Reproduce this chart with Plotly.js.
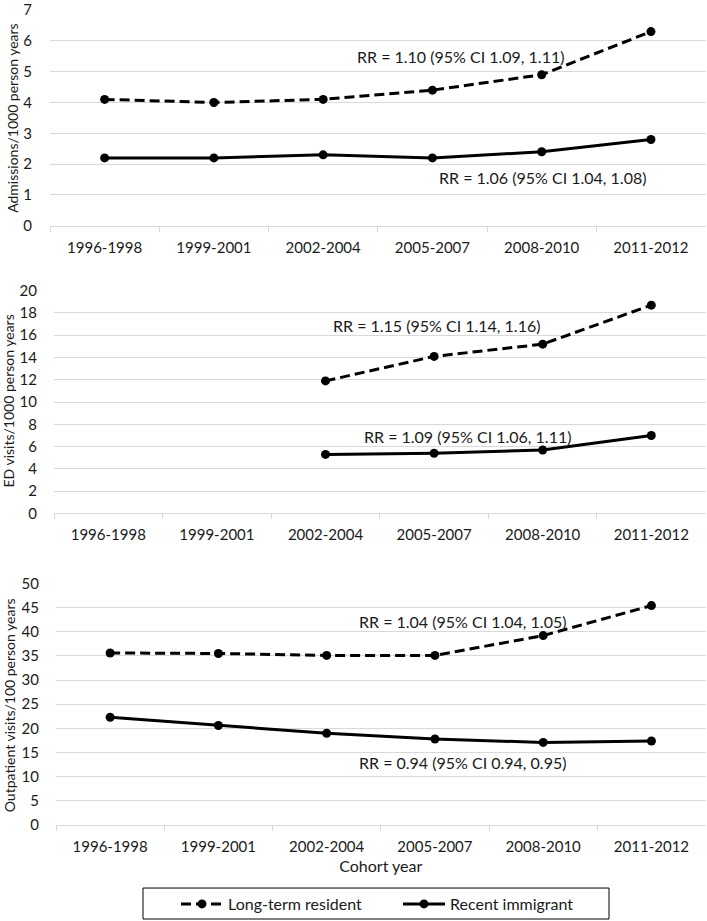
<!DOCTYPE html>
<html>
<head>
<meta charset="utf-8">
<script src="https://cdn.plot.ly/plotly-3.0.1.min.js"></script>
<style>html,body{margin:0;padding:0;background:#fff;}#chart{width:707px;height:921px;}</style>
</head>
<body>
<div id="chart"></div>
<script>
const categories = ['1996-1998','1999-2001','2002-2004','2005-2007','2008-2010','2011-2012'];
const admLongTerm = [4.1, 4.0, 4.1, 4.4, 4.9, 6.3];
const admRecent   = [2.2, 2.2, 2.3, 2.2, 2.4, 2.8];
const edLongTerm  = [null, null, 11.9, 14.1, 15.2, 18.7];
const edRecent    = [null, null, 5.3, 5.4, 5.7, 7.0];
const opLongTerm  = [35.6, 35.5, 35.1, 35.1, 39.2, 45.4];
const opRecent    = [22.3, 20.6, 19.0, 17.8, 17.1, 17.4];
const seriesNames = ['Long-term resident', 'Recent immigrant'];
const yTitles = ['Admissions/1000 person years', 'ED visits/1000 person years', 'Outpatient visits/100 person years'];
const rrLabels = [
  'RR = 1.10 (95% CI 1.09, 1.11)', 'RR = 1.06 (95% CI 1.04, 1.08)',
  'RR = 1.15 (95% CI 1.14, 1.16)', 'RR = 1.09 (95% CI 1.06, 1.11)',
  'RR = 1.04 (95% CI 1.04, 1.05)', 'RR = 0.94 (95% CI 0.94, 0.95)'
];

const W = 707, H = 921;
const px = v => v / W;
const py = v => 1 - v / H;
const FONT = 'Lato, "Open Sans", sans-serif';
const TXT = '#1a1a1a';

function trace(y, idx, dashed, showlegend) {
  const ax = idx === 1 ? '' : String(idx);
  return {
    x: categories, y: y, type: 'scatter', mode: 'lines+markers',
    name: dashed ? seriesNames[0] : seriesNames[1],
    legendgroup: dashed ? 'a' : 'b',
    showlegend: showlegend,
    xaxis: 'x' + ax, yaxis: 'y' + ax,
    line: {color: '#000', width: 3, dash: dashed ? '10px,5px' : 'solid'},
    marker: {color: '#000', size: 9, symbol: 'circle'},
    connectgaps: false, hoverinfo: 'skip'
  };
}

const data = [
  trace(admLongTerm, 1, true, true), trace(admRecent, 1, false, true),
  trace(edLongTerm, 2, true, false), trace(edRecent, 2, false, false),
  trace(opLongTerm, 3, true, false), trace(opRecent, 3, false, false)
];

function xax(d0, anchor, title) {
  const a = {
    domain: [d0, 0.998], anchor: anchor, type: 'category',
    range: [-0.5, 5.5], fixedrange: true,
    showgrid: false, zeroline: false,
    showline: true, linecolor: '#d9d9d9', linewidth: 1,
    ticks: 'outside', tickson: 'boundaries', ticklen: 5, tickcolor: '#d9d9d9', tickwidth: 1,
    ticklabelstandoff: 8,
    tickfont: {family: FONT, size: 15, color: TXT}
  };
  if (title) a.title = {text: title, font: {family: FONT, size: 16, color: TXT}, standoff: 6};
  return a;
}
function yax(dom, anchor, range, dtick, standoff) {
  return {
    domain: dom, anchor: anchor, range: range, dtick: dtick, fixedrange: true,
    showgrid: true, gridcolor: '#d9d9d9', gridwidth: 1,
    zeroline: false, showline: false, ticks: '',
    ticklabelstandoff: standoff, ticklabeloverflow: 'allow',
    tickfont: {family: FONT, size: 15, color: TXT}
  };
}

const annFont = {family: FONT, size: 16, color: TXT};
function rr(text, xref, yref, x, y) {
  return {text: text, xref: xref, yref: yref, x: x, y: y, xanchor: 'left', yanchor: 'middle',
          showarrow: false, font: annFont};
}
function ytitle(text, x, y) {
  return {text: text, xref: 'paper', yref: 'paper', x: px(x), y: py(y), xanchor: 'center', yanchor: 'middle',
          textangle: -90, showarrow: false, font: {family: FONT, size: 14, color: TXT}};
}

const layout = {
  width: W, height: H,
  margin: {l: 0, r: 0, t: 0, b: 0},
  paper_bgcolor: '#fff', plot_bgcolor: '#fff',
  font: {family: FONT, size: 15, color: TXT},
  xaxis:  xax(px(50), 'y'),
  xaxis2: xax(px(54), 'y2'),
  xaxis3: xax(px(56), 'y3', 'Cohort year'),
  yaxis:  yax([py(226), py(10)], 'x', [0, 7], 1, 17),
  yaxis2: yax([py(514), py(291)], 'x2', [0, 20], 2, 16),
  yaxis3: yax([py(826), py(584)], 'x3', [0, 50], 5, 16),
  showlegend: true,
  legend: {
    orientation: 'h', x: px(176), y: py(905), xanchor: 'left', yanchor: 'middle',
    bgcolor: 'rgba(0,0,0,0)', borderwidth: 0, entrywidth: 165, itemwidth: 42,
    font: {family: FONT, size: 16, color: TXT}, itemclick: false, itemdoubleclick: false
  },
  shapes: [{type: 'rect', xref: 'paper', yref: 'paper', x0: px(143), x1: px(609), y0: py(920), y1: py(889),
            line: {color: '#000', width: 1}, fillcolor: 'rgba(0,0,0,0)'}],
  annotations: [
    ytitle(yTitles[0], 13, 118),
    ytitle(yTitles[1], 9, 402),
    ytitle(yTitles[2], 9, 706),
    rr(rrLabels[0], 'x', 'y', 2.29, 5.48),
    rr(rrLabels[1], 'x', 'y', 3.04, 1.58),
    rr(rrLabels[2], 'x2', 'y2', 2.05, 16.86),
    rr(rrLabels[3], 'x2', 'y2', 2.34, 6.9),
    rr(rrLabels[4], 'x3', 'y3', 2.28, 42.1),
    rr(rrLabels[5], 'x3', 'y3', 2.28, 13.0)
  ]
};

Plotly.newPlot('chart', data, layout, {displayModeBar: false, staticPlot: true});
</script>
</body>
</html>
